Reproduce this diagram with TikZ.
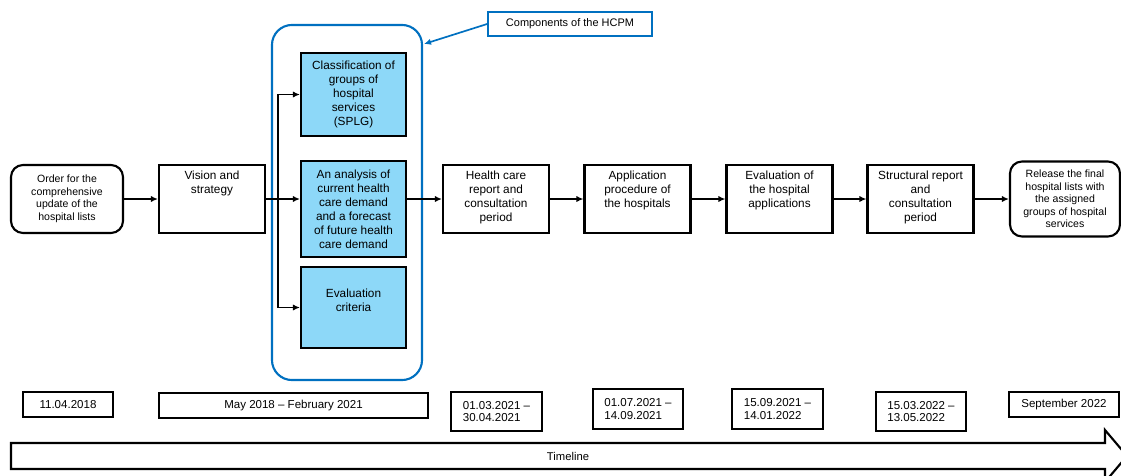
\documentclass[tikz,border=0pt]{standalone}
\usepackage{fontspec}
\setmainfont{Liberation Sans}
\usetikzlibrary{arrows.meta}
\definecolor{hcpmblue}{RGB}{0,112,192}
\definecolor{compfill}{RGB}{141,216,248}

\tikzset{
  flow/.style={-{Latex[length=5pt,width=4.5pt]}, line width=1.25pt},
  procbox/.style={draw, line width=1.5pt, minimum width=2.65cm, minimum height=1.7cm, inner sep=0pt},
  endbox/.style={procbox, rounded corners=0.3cm, align=center, font=\fontsize{7.5}{8.9}\selectfont},
  compbox/.style={draw, line width=1.5pt, fill=compfill, minimum width=2.625cm, align=center, inner sep=0pt, font=\fontsize{8.4}{10}\selectfont},
  datebox/.style={draw, line width=1.5pt, minimum height=0.625cm, inner sep=0pt, align=left, font=\fontsize{8.2}{8.7}\selectfont},
  toptext/.style={label={[align=center, anchor=north, inner sep=0pt, yshift=-0.16cm, font=\fontsize{8.4}{10}\selectfont]north:#1}},
}

\begin{document}
\begin{tikzpicture}[x=0.025cm, y=-0.025cm]
  \useasboundingbox (0,0) rectangle (1121,475);

  % HCPM frame and its label
  \node[draw=hcpmblue, line width=1.5pt, rounded corners=0.5cm, minimum width=3.75cm, minimum height=8.875cm] (hcpm) at (347,202.5) {};
  \node[draw=hcpmblue, line width=1.2pt, minimum width=4.1cm, minimum height=0.6cm, inner sep=0pt, font=\fontsize{7.8}{9}\selectfont] (comp) at (570,24) {Components of the HCPM};
  \coordinate (hcpmtip) at (424,44);
  \draw[-{Latex[length=5pt,width=4.5pt]}, hcpmblue, line width=1.2pt] (comp.west) -- (hcpmtip);

  % process steps
  \node[endbox, minimum width=2.8cm] (start) at (67,199) {Order for the\\comprehensive\\update of the\\hospital lists};
  \node[procbox, toptext={Vision and\\strategy}] (vis) at (212,199) {};
  \node[compbox, minimum height=2.075cm] (splg) at (353.5,94.5) {Classification of\\groups of\\hospital\\services\\(SPLG)};
  \node[compbox, minimum height=2.4cm] (ana) at (353.5,209) {An analysis of\\current health\\care demand\\and a forecast\\of future health\\care demand};
  \node[compbox, minimum height=2.025cm, label={[align=center, font=\fontsize{8.4}{10}\selectfont, yshift=0.19cm]center:Evaluation\\criteria}] (evc) at (353.5,307.5) {};
  \node[procbox, toptext={Health care\\report and\\consultation\\period}] (hc) at (496,199) {};
  \node[procbox, toptext={Application\\procedure of\\the hospitals}] (app) at (637.5,199) {};
  \node[procbox, toptext={Evaluation of\\the hospital\\applications}] (eva) at (779.5,199) {};
  \node[procbox, toptext={Structural report\\and\\consultation\\period}] (str) at (920.5,199) {};
  \node[endbox, minimum width=2.75cm, minimum height=1.875cm] (rel) at (1065,199) {Release the final\\hospital lists with\\the assigned\\groups of hospital\\services};

  % connectors
  \coordinate (fork) at (278,199);
  \draw[flow] (start) -- (vis);
  \draw[flow] (vis.east) -- (vis.east -| ana.west);
  \draw[flow] (fork) |- (splg.west);
  \draw[flow] (fork) |- (evc.west);
  \draw[flow] (ana.east |- hc.west) -- (hc.west);
  \draw[flow] (hc) -- (app);
  \draw[flow] (app) -- (eva);
  \draw[flow] (eva) -- (str);
  \draw[flow] (str) -- (rel);

  % dates
  \node[datebox, minimum width=2.25cm] (d1) at (68,404.5) {11.04.2018};
  \node[datebox, minimum width=6.725cm] (d2) at (293.5,405.5) {May 2018 -- February 2021};
  \node[datebox, minimum width=2.275cm, minimum height=0.975cm] (d3) at (496.5,411.5) {01.03.2021 --\\30.04.2021};
  \node[datebox, minimum width=2.25cm, minimum height=1cm] (d4) at (638,409) {01.07.2021 --\\14.09.2021};
  \node[datebox, minimum width=2.275cm, minimum height=1cm] (d5) at (777.5,409) {15.09.2021 --\\14.01.2022};
  \node[datebox, minimum width=2.25cm, minimum height=0.975cm] (d6) at (921,411.5) {15.03.2022 --\\13.05.2022};
  \node[datebox, minimum width=2.75cm] (d7) at (1064,404.5) {September 2022};

  % timeline
  \draw[line width=1.5pt] (11,443) -- (1105,443) -- (1105,430) -- (1127,456) -- (1105,482) -- (1105,469) -- (11,469) -- cycle;
  \node[font=\fontsize{8}{9}\selectfont] (tl) at (568,456) {Timeline};
\end{tikzpicture}
\end{document}
